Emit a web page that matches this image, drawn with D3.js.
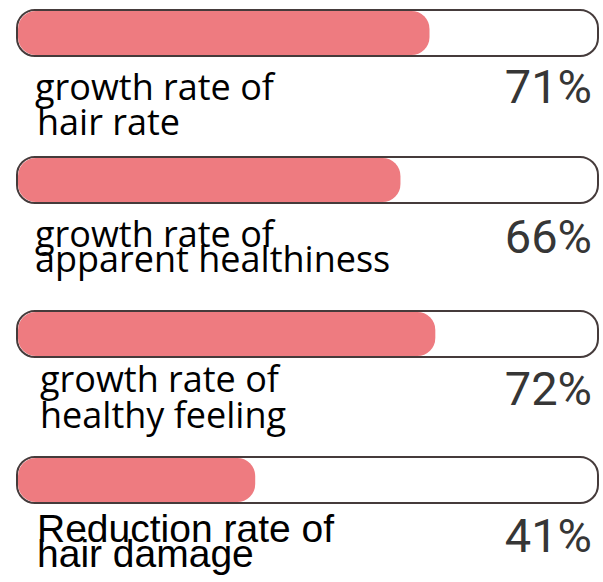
<!DOCTYPE html>
<html>
<head>
<meta charset="utf-8">
<script src="https://cdn.jsdelivr.net/npm/d3@7"></script>
<style>
  html, body { margin: 0; padding: 0; background: #fff; }
  svg { display: block; }
</style>
</head>
<body>
<svg id="chart" width="603" height="582"></svg>
<script>
const categories = [
  ["growth rate of", "hair rate"],
  ["growth rate of", "apparent healthiness"],
  ["growth rate of", "healthy feeling"],
  ["Reduction rate of", "hair damage"]
];
const values = [71, 66, 72, 41];
const valueLabels = ["71%", "66%", "72%", "41%"];

const svg = d3.select("#chart");

// layout (not data)
const trackLeft = 17, trackRight = 598, barH = 46;
const rowTops = [10, 157, 311, 457];
const labelBase = [[90, 125], [90, 115], [81, 117], [85, 110]];
const labelX = [[35, 37], [35, 35], [40, 40], [37, 37]];
const pctBase = [93, 96, 94, 95];

const x = d3.scaleLinear().domain([0, 100]).range([trackLeft, trackRight]);

const rows = svg.selectAll("g.row").data(values).join("g")
  .attr("class", "row")
  .attr("transform", (d, i) => `translate(0,${rowTops[i]})`);

rows.append("rect")
  .attr("x", x(0)).attr("y", 0)
  .attr("width", x(100) - x(0)).attr("height", barH)
  .attr("rx", 18).attr("ry", 18)
  .attr("fill", "#fff").attr("stroke", "#453b3b").attr("stroke-width", 2);

rows.append("rect")
  .attr("x", x(0) + 1).attr("y", 1)
  .attr("width", d => x(d) - x(0) - 1).attr("height", barH - 2)
  .attr("rx", 18).attr("ry", 18)
  .attr("fill", "#ee7b80");

rows.append("text")
  .attr("x", 592).attr("y", (d, i) => pctBase[i])
  .attr("text-anchor", "end")
  .attr("font-family", "Roboto, 'Open Sans', sans-serif")
  .attr("font-size", 47)
  .attr("fill", "#363636")
  .text((d, i) => valueLabels[i]);

rows.each(function(d, i) {
  const g = d3.select(this);
  const isArial = i === 3;
  categories[i].forEach((line, j) => {
    g.append("text")
      .attr("x", labelX[i][j])
      .attr("y", labelBase[i][j])
      .attr("font-family", isArial ? "'Liberation Sans', Arial, sans-serif" : "'Open Sans', 'Noto Sans', sans-serif")
      .attr("font-size", isArial ? 39 : 36)
      .attr("fill", "#000")
      .text(line);
  });
});
</script>
</body>
</html>
